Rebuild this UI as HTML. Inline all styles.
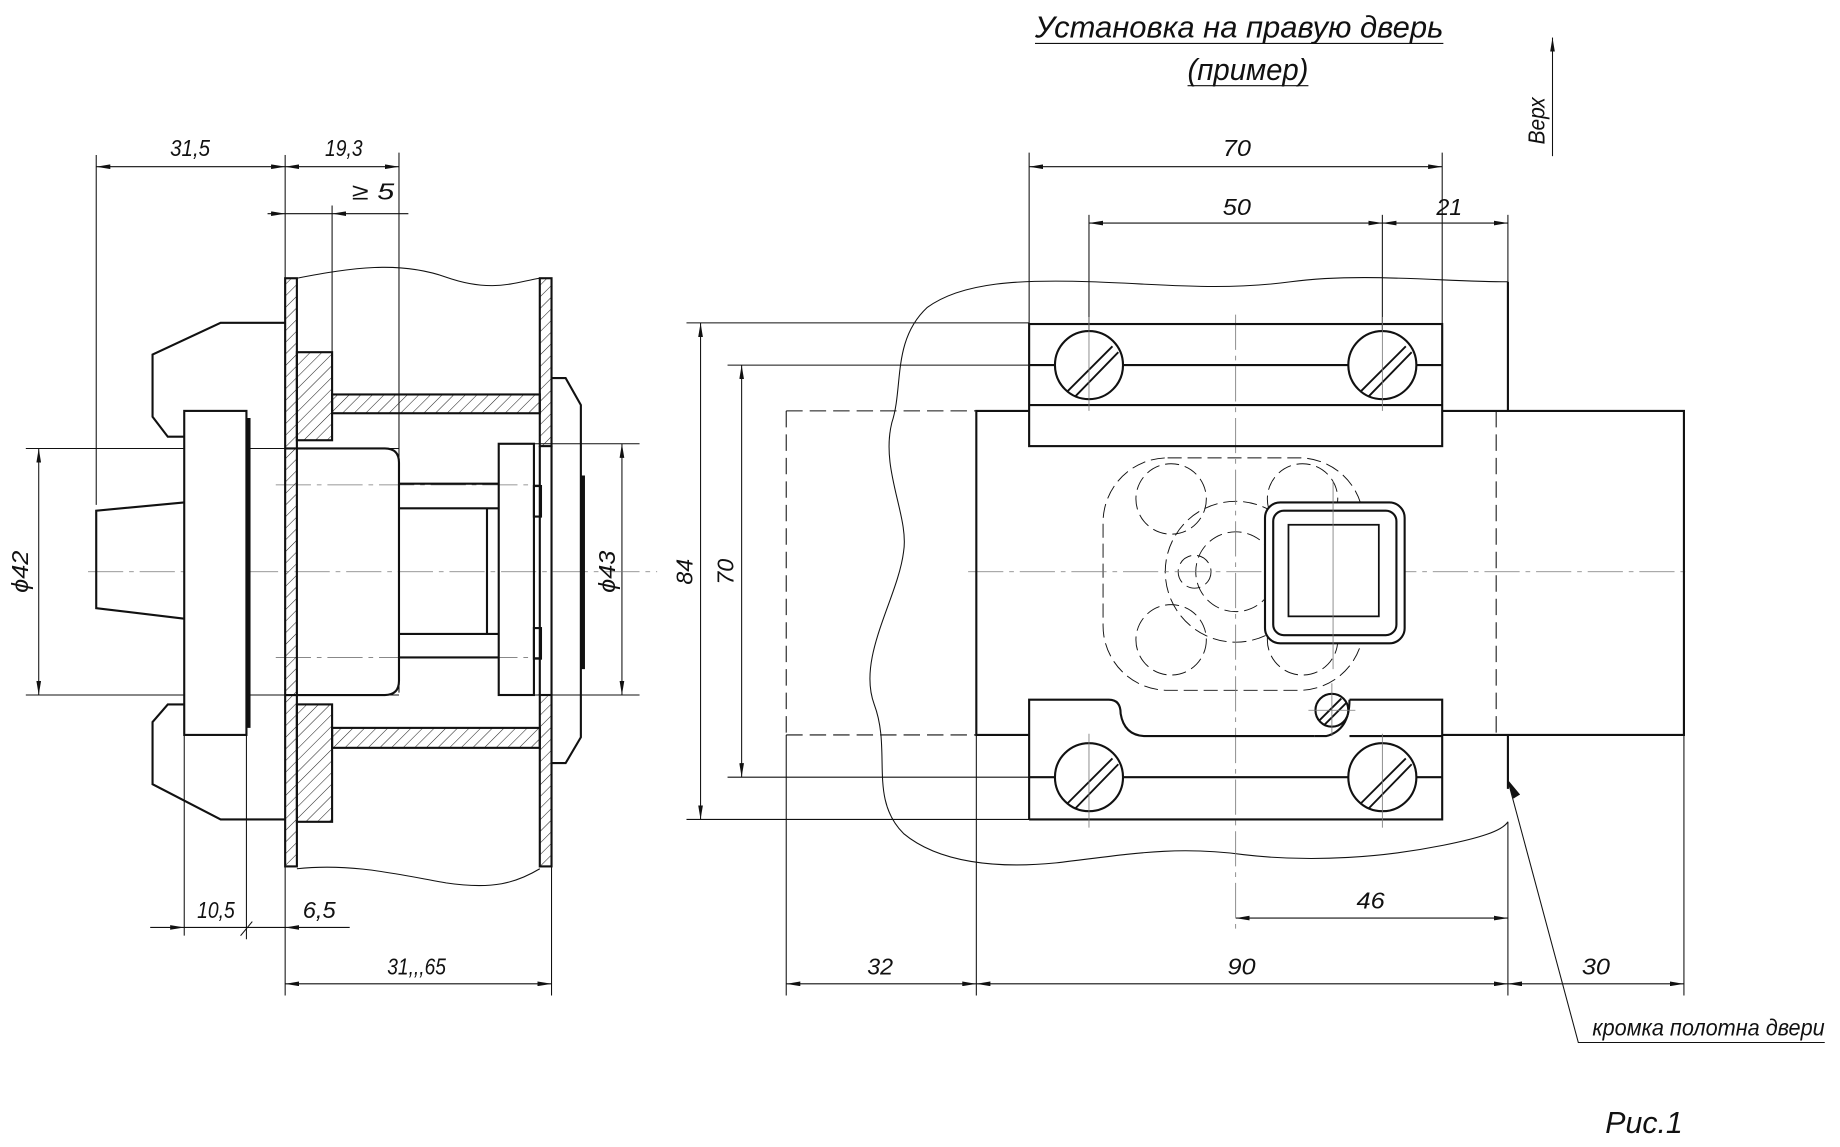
<!DOCTYPE html>
<html><head><meta charset="utf-8"><style>html,body{margin:0;padding:0;background:#fff}svg{display:block}text{font-family:"Liberation Sans",sans-serif;font-style:italic;fill:#111}</style></head><body>
<svg width="1840" height="1147" viewBox="0 0 1568 977" preserveAspectRatio="none" xmlns="http://www.w3.org/2000/svg">
<defs>
<pattern id="h" width="7" height="7" patternUnits="userSpaceOnUse" patternTransform="rotate(45)"><line x1="0" y1="0" x2="0" y2="7" stroke="#222" stroke-width="0.9"/></pattern>
<marker id="a" viewBox="0 0 12 4" refX="12" refY="2" markerWidth="12" markerHeight="4" orient="auto-start-reverse" markerUnits="userSpaceOnUse"><path d="M0,0 L12,2 L0,4z" fill="#111"/></marker>
</defs>
<g fill="none" stroke="#111" stroke-width="0.9">
<line x1="82" y1="142" x2="243" y2="142" marker-start="url(#a)" marker-end="url(#a)"/>
<line x1="243" y1="142" x2="340" y2="142" marker-start="url(#a)" marker-end="url(#a)"/>
<line x1="82" y1="132" x2="82" y2="430"/>
<line x1="340" y1="130" x2="340" y2="590"/>
<line x1="228" y1="182" x2="243" y2="182" marker-end="url(#a)"/>
<line x1="348" y1="182" x2="283" y2="182" marker-end="url(#a)"/>
<line x1="243" y1="182" x2="283" y2="182"/>
<line x1="283" y1="175" x2="283" y2="330"/>
<line x1="243" y1="132" x2="243" y2="237"/>
<line x1="22" y1="382" x2="340" y2="382"/>
<line x1="22" y1="592" x2="340" y2="592"/>
<line x1="33" y1="382" x2="33" y2="592" marker-start="url(#a)" marker-end="url(#a)"/>
<line x1="455" y1="378" x2="545" y2="378"/>
<line x1="455" y1="592" x2="545" y2="592"/>
<line x1="530" y1="378" x2="530" y2="592" marker-start="url(#a)" marker-end="url(#a)"/>
<line x1="157" y1="626" x2="157" y2="797"/>
<line x1="210" y1="626" x2="210" y2="800"/>
<line x1="128" y1="790" x2="157" y2="790" marker-end="url(#a)"/>
<line x1="157" y1="790" x2="243" y2="790"/>
<line x1="298" y1="790" x2="243" y2="790" marker-end="url(#a)"/>
<line x1="205" y1="797" x2="215" y2="785"/>
<line x1="243" y1="738" x2="243" y2="848"/>
<line x1="470" y1="738" x2="470" y2="848"/>
<line x1="243" y1="838" x2="470" y2="838" marker-start="url(#a)" marker-end="url(#a)"/>
<path d="M253,237 C300,228 340,222 380,236 C420,250 440,240 460,237"/>
<path d="M253,740 C300,735 340,745 380,752 C420,758 440,752 460,740"/>
<line x1="75" y1="487" x2="560" y2="487" stroke="#777" stroke-dasharray="30,5,4,5" stroke-width="0.7"/>
<line x1="235" y1="413" x2="460" y2="413" stroke="#777" stroke-dasharray="30,5,4,5" stroke-width="0.7"/>
<line x1="235" y1="560" x2="460" y2="560" stroke="#777" stroke-dasharray="30,5,4,5" stroke-width="0.7"/>
</g>
<g stroke="#111" stroke-width="1.8" fill="none">
<rect x="243" y="237" width="10" height="501" fill="url(#h)"/>
<rect x="460" y="237" width="10" height="143" fill="url(#h)"/>
<rect x="460" y="592" width="10" height="146" fill="url(#h)"/>
<line x1="460" y1="380" x2="460" y2="592"/><line x1="470" y1="380" x2="470" y2="592"/>
<rect x="253" y="300" width="30" height="75" fill="url(#h)"/>
<rect x="253" y="600" width="30" height="100" fill="url(#h)"/>
<rect x="283" y="336" width="177" height="16" fill="url(#h)"/>
<rect x="283" y="620" width="177" height="17" fill="url(#h)"/>
<path d="M243,275 L188,275 L130,302 L130,355 L143,372 L157,372"/>
<path d="M157,600 L143,600 L130,615 L130,668 L188,698 L243,698"/>
<rect x="157" y="350" width="53" height="276" fill="#fff"/>
<line x1="212" y1="356" x2="212" y2="620" stroke-width="3"/>
<path d="M157,428 L82,435 L82,518 L157,527"/>
<path d="M243,382 L328,382 Q340,382 340,394 L340,580 Q340,592 328,592 L243,592"/>
<path d="M340,412 L425,412 M340,433 L425,433 M340,540 L425,540 M340,560 L425,560 M415,433 L415,540"/>
<rect x="425" y="378" width="30" height="214"/>
<rect x="455" y="414" width="6" height="26"/><rect x="455" y="535" width="6" height="26"/>
<path d="M470,322 L482,322 L495,345 L495,628 L482,650 L470,650"/>
<line x1="497" y1="405" x2="497" y2="570" stroke-width="3"/>
</g>
<g font-size="20" lengthAdjust="spacingAndGlyphs">
<text x="145" y="133" textLength="34" lengthAdjust="spacingAndGlyphs">31,5</text>
<text x="277" y="133" textLength="32" lengthAdjust="spacingAndGlyphs">19,3</text>
<text x="300" y="170" textLength="36" lengthAdjust="spacingAndGlyphs">≥ 5</text>
<text x="168" y="782" textLength="32" lengthAdjust="spacingAndGlyphs">10,5</text>
<text x="258" y="782" textLength="28" lengthAdjust="spacingAndGlyphs">6,5</text>
<text x="330" y="830" textLength="50" lengthAdjust="spacingAndGlyphs">31,,,65</text>
<text transform="translate(24,505) rotate(-90)" textLength="36" lengthAdjust="spacingAndGlyphs">ϕ42</text>
<text transform="translate(524,505) rotate(-90)" textLength="36" lengthAdjust="spacingAndGlyphs">ϕ43</text>
<text transform="translate(590,498) rotate(-90)" textLength="22" lengthAdjust="spacingAndGlyphs">84</text>
<text transform="translate(625,498) rotate(-90)" textLength="22" lengthAdjust="spacingAndGlyphs">70</text>
</g>
<g fill="none" stroke="#111" stroke-width="0.9">
<path d="M1285,240 C1230,240 1160,232 1100,240 C1040,248 990,242 930,240 C870,238 820,240 790,262 C760,290 770,330 760,360 C750,400 775,440 770,470 C765,510 730,560 745,600 C760,640 740,680 770,710 C800,735 850,740 900,735 C960,728 1000,720 1060,728 C1120,735 1180,730 1230,720 C1260,714 1280,708 1285,700"/>
<line x1="585" y1="275" x2="877" y2="275"/>
<line x1="585" y1="698" x2="877" y2="698"/>
<line x1="620" y1="311" x2="877" y2="311"/>
<line x1="620" y1="662" x2="877" y2="662"/>
<line x1="597" y1="275" x2="597" y2="698" marker-start="url(#a)" marker-end="url(#a)"/>
<line x1="632" y1="311" x2="632" y2="662" marker-start="url(#a)" marker-end="url(#a)"/>
<line x1="877" y1="130" x2="877" y2="276"/><line x1="1229" y1="130" x2="1229" y2="276"/>
<line x1="877" y1="142" x2="1229" y2="142" marker-start="url(#a)" marker-end="url(#a)"/>
<line x1="928" y1="183" x2="928" y2="290"/><line x1="1178" y1="183" x2="1178" y2="290"/><line x1="1285" y1="183" x2="1285" y2="240"/>
<line x1="928" y1="190" x2="1178" y2="190" marker-start="url(#a)" marker-end="url(#a)"/>
<line x1="1178" y1="190" x2="1285" y2="190" marker-start="url(#a)" marker-end="url(#a)"/>
<line x1="1053" y1="782" x2="1285" y2="782" marker-start="url(#a)" marker-end="url(#a)"/>
<line x1="670" y1="838" x2="832" y2="838" marker-start="url(#a)" marker-end="url(#a)"/>
<line x1="832" y1="838" x2="1285" y2="838" marker-start="url(#a)" marker-end="url(#a)"/>
<line x1="1285" y1="838" x2="1435" y2="838" marker-start="url(#a)" marker-end="url(#a)"/>
<line x1="670" y1="626" x2="670" y2="848"/>
<line x1="832" y1="626" x2="832" y2="848"/>
<line x1="1285" y1="700" x2="1285" y2="848"/>
<line x1="1435" y1="626" x2="1435" y2="848"/>
<path d="M1285,665 L1345,888 L1555,888"/>
<path d="M1290,680 L1285,665 L1295,677" fill="#111"/>
<line x1="1323" y1="133" x2="1323" y2="32" marker-end="url(#a)"/>
<line x1="882" y1="37" x2="1230" y2="37"/>
<line x1="1012" y1="73" x2="1115" y2="73"/>
<g stroke-dasharray="14,6"><line x1="670" y1="350" x2="670" y2="626"/><line x1="670" y1="350" x2="832" y2="350"/><line x1="670" y1="626" x2="832" y2="626"/><line x1="1275" y1="350" x2="1275" y2="626"/></g>
<g stroke-dasharray="12,5" stroke-width="0.8">
<rect x="940" y="390" width="222" height="198" rx="55"/>
<circle cx="1053" cy="487" r="34"/><circle cx="1053" cy="487" r="60"/>
<circle cx="998" cy="425" r="30"/><circle cx="998" cy="545" r="30"/>
<circle cx="1110" cy="425" r="30"/><circle cx="1110" cy="545" r="30"/>
<circle cx="1018" cy="487" r="14"/><circle cx="1094" cy="487" r="14"/>
</g>
<line x1="825" y1="487" x2="1440" y2="487" stroke="#777" stroke-dasharray="30,5,4,5" stroke-width="0.7"/>
<line x1="1053" y1="268" x2="1053" y2="792" stroke="#777" stroke-dasharray="30,5,4,5" stroke-width="0.7"/>
</g>
<g stroke="#111" stroke-width="1.8" fill="none">
<path d="M1285,240 L1285,350 M1285,626 L1285,672"/>
<path d="M877,350 L832,350 L832,626 L877,626 M1229,350 L1435,350 L1435,626 L1229,626"/>
<rect x="877" y="276" width="352" height="104"/>
<line x1="877" y1="311" x2="1229" y2="311"/><line x1="877" y1="345" x2="1229" y2="345"/>
<path d="M877,698 L877,596 L945,596 Q955,596 955,608 Q958,626 975,627 L1120,627 M1150,596 L1229,596 L1229,698 L877,698"/>
<path d="M1150,596 Q1150,622 1130,627 L1120,627"/>
<line x1="877" y1="662" x2="1229" y2="662"/><line x1="1229" y1="627" x2="1150" y2="627"/>
<rect x="1078" y="428" width="119" height="120" rx="13" fill="#fff"/>
<rect x="1085" y="435" width="105" height="106" rx="9"/>
<rect x="1098" y="447" width="77" height="78" stroke-width="1.5"/>
<g fill="#fff">
<circle cx="928" cy="311" r="29"/><circle cx="1178" cy="311" r="29"/>
<circle cx="928" cy="662" r="29"/><circle cx="1178" cy="662" r="29"/>
<circle cx="1135" cy="605" r="14"/>
</g>
<path d="M910,333 L948,295 M916,338 L953,300 M1160,333 L1198,295 M1166,338 L1203,300 M910,684 L948,646 M916,689 L953,651 M1160,684 L1198,646 M1166,689 L1203,651 M1124,614 L1143,595 M1128,618 L1147,599" stroke-width="1.6"/>
</g>
<g stroke="#777" stroke-width="0.7">
<line x1="928" y1="270" x2="928" y2="350"/><line x1="1178" y1="270" x2="1178" y2="350"/>
<line x1="928" y1="625" x2="928" y2="705"/><line x1="1178" y1="625" x2="1178" y2="705"/>
<line x1="1135" y1="582" x2="1135" y2="627"/><line x1="1115" y1="605" x2="1155" y2="605"/>
<line x1="1136" y1="410" x2="1136" y2="570"/>
</g>
<g font-size="20">
<text x="1042" y="133" textLength="24" lengthAdjust="spacingAndGlyphs">70</text>
<text x="1042" y="183" textLength="24" lengthAdjust="spacingAndGlyphs">50</text>
<text x="1224" y="183" textLength="22" lengthAdjust="spacingAndGlyphs">21</text>
<text x="1156" y="774" textLength="24" lengthAdjust="spacingAndGlyphs">46</text>
<text x="739" y="830" textLength="22" lengthAdjust="spacingAndGlyphs">32</text>
<text x="1046" y="830" textLength="24" lengthAdjust="spacingAndGlyphs">90</text>
<text x="1348" y="830" textLength="24" lengthAdjust="spacingAndGlyphs">30</text>
<text x="1357" y="882" textLength="198" lengthAdjust="spacingAndGlyphs">кромка полотна двери</text>
<text transform="translate(1316,123) rotate(-90)" textLength="40" lengthAdjust="spacingAndGlyphs">Верх</text>
</g>
<g font-size="26">
<text x="882" y="32" textLength="348" lengthAdjust="spacingAndGlyphs">Установка на правую дверь</text>
<text x="1012" y="68" textLength="103" lengthAdjust="spacingAndGlyphs">(пример)</text>
<text x="1368" y="965" textLength="66" lengthAdjust="spacingAndGlyphs">Рис.1</text>
</g>
</svg>
</body></html>
